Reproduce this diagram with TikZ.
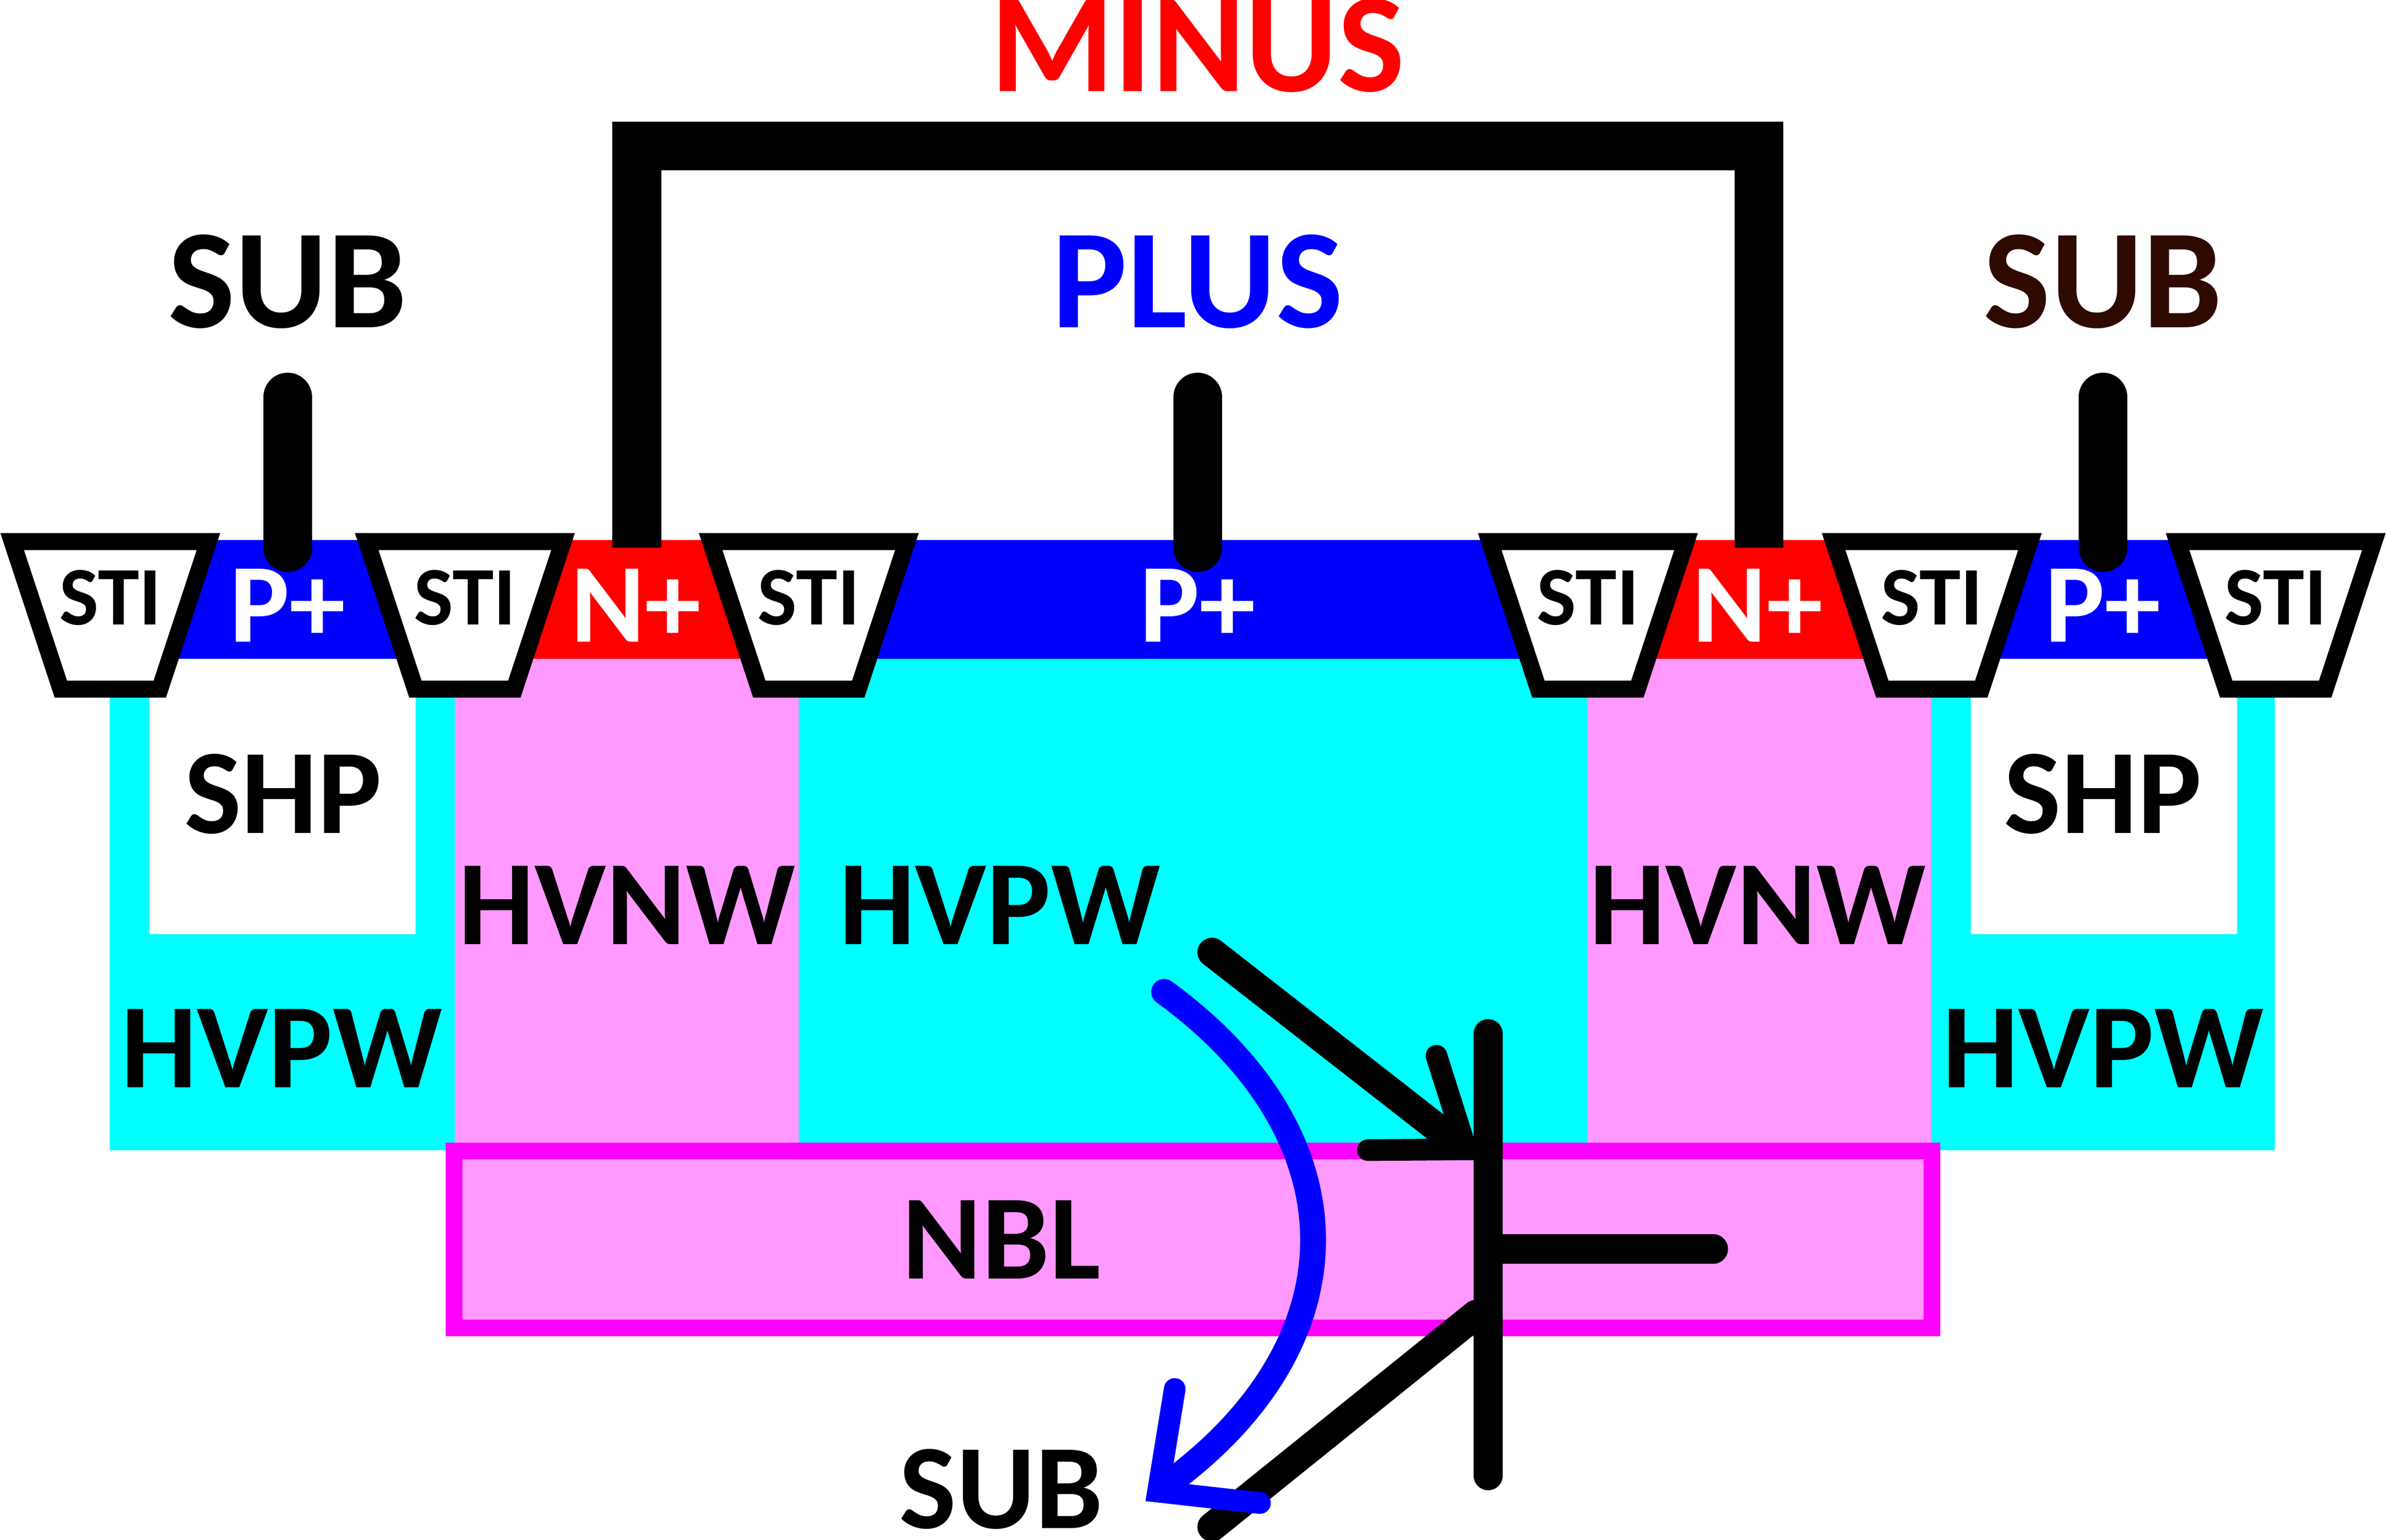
\documentclass[tikz,border=0pt]{standalone}
\usepackage{fontspec}
\setmainfont{Carlito}
\definecolor{hvp}{HTML}{00FFFF}
\definecolor{hvn}{HTML}{FF99FF}
\definecolor{nblc}{HTML}{FF00FF}
\definecolor{pdiff}{HTML}{0000FF}
\definecolor{ndiff}{HTML}{FF0000}
\definecolor{brownish}{HTML}{2E0A00}
\tikzset{
  x=0.36524pt,y=-0.36524pt,
  lab/.style={font=\fontsize{#1}{#1}\selectfont\bfseries,inner sep=0pt,text=black},
  stishape/.style={draw=black,fill=white,line width=4.1pt,miter limit=10},
  stem/.style={draw=black,line width=11.7pt,line cap=round},
  wire/.style={draw=black,line width=11.7pt,line join=miter},
  bjt/.style={draw=black,line width=7pt,line cap=round},
  bjthead/.style={draw=black,line width=5.2pt,line cap=round,line join=miter},
  cur/.style={draw=pdiff,line width=6.2pt,line cap=round},
  curhead/.style={draw=pdiff,line width=5.2pt,line cap=round,line join=miter},
}
\newcommand{\stibox}[2]{%
  \path[stishape] (#1+8,356)--(#1+137,356)--(#1+105,453)--(#1+40,453)--cycle;
  \node[lab=20] (#2) at (#1+72.5,393) {STI};
}
\begin{document}
\begin{tikzpicture}
\useasboundingbox (0,0) rectangle (1568,1012.2);
% wells
\fill[hvp] (72,433) rectangle (299,756);
\fill[white] (98,433) rectangle (273,614);
\fill[hvn] (299,433) rectangle (525,752);
\fill[hvp] (525,433) rectangle (1043,752);
\fill[hvn] (1043,433) rectangle (1269,752);
\fill[hvp] (1269,433) rectangle (1495,756);
\fill[white] (1295,433) rectangle (1470,614);
% diffusions
\fill[pdiff] (72,355) rectangle (299,433);
\fill[ndiff] (299,355) rectangle (525,433);
\fill[pdiff] (525,355) rectangle (1043,433);
\fill[ndiff] (1043,355) rectangle (1269,433);
\fill[pdiff] (1269,355) rectangle (1495,433);
% contact coordinates
\coordinate (c1t) at (189,261); \coordinate (c1b) at (189,360);
\coordinate (c2t) at (787,261); \coordinate (c2b) at (787,360);
\coordinate (c3t) at (1382,261); \coordinate (c3b) at (1382,360);
\coordinate (m1) at (418.5,360); \coordinate (m2) at (418.5,96);
\coordinate (m3) at (1156,96); \coordinate (m4) at (1156,360);
\draw[stem] (c1t) -- (c1b);
\draw[stem] (c2t) -- (c2b);
\draw[stem] (c3t) -- (c3b);
\draw[wire] (m1) -- (m2) -- (m3) -- (m4);
% STI
\stibox{0}{sti1}
\stibox{233}{sti2}
\stibox{459}{sti3}
\stibox{971}{sti4}
\stibox{1197}{sti5}
\stibox{1423}{sti6}
% NBL
\path[draw=nblc,fill=hvn,line width=4pt] (298.5,756.5) rectangle (1269.5,873);
% labels
\node[lab=34,text=ndiff] (minus) at (787,30) {MINUS};
\node[lab=34] (sub1) at (189,185) {SUB};
\node[lab=34,text=pdiff] (plus) at (787,185) {PLUS};
\node[lab=34,text=brownish] (sub2) at (1382,185) {SUB};
\node[lab=27,text=white] (p1) at (189,398) {P+};
\node[lab=27,text=white] (n1) at (418,398) {N+};
\node[lab=27,text=white] (p2) at (787,398) {P+};
\node[lab=27,text=white] (n2) at (1155,398) {N+};
\node[lab=27,text=white] (p3) at (1382,398) {P+};
\node[lab=29] (shp1) at (186,522) {SHP};
\node[lab=29] (shp2) at (1382,522) {SHP};
\node[lab=29] (hvnw1) at (412,595) {HVNW};
\node[lab=29] (hvpw1) at (657,595) {HVPW};
\node[lab=29] (hvnw2) at (1155,595) {HVNW};
\node[lab=29] (hvpw2) at (185,689) {HVPW};
\node[lab=29] (hvpw3) at (1382,689) {HVPW};
\node[lab=29] (nbl) at (658,815) {NBL};
\node[lab=29] (sub3) at (658,979) {SUB};
% transistor
\coordinate (bt) at (978,679.5); \coordinate (bb) at (978,970);
\coordinate (bm) at (978,821); \coordinate (be) at (1126,821);
\coordinate (es) at (796.5,626); \coordinate (ee) at (958,752);
\coordinate (h1) at (944,694); \coordinate (h2) at (963.5,755.5); \coordinate (h3) at (899,756);
\coordinate (cs) at (970,864); \coordinate (ce) at (796.5,1003.7);
\draw[bjt] (bt) -- (bb);
\draw[bjt] (bm) -- (be);
\draw[bjt] (es) -- (ee);
\draw[bjthead] (h1) -- (h2) -- (h3);
\draw[bjt] (cs) -- (ce);
% current arrow
\coordinate (is) at (765,652); \coordinate (ie) at (768,975);
\coordinate (k1) at (772,913); \coordinate (k2) at (761,980.5); \coordinate (k3) at (828,988);
\draw[cur] (is) .. controls (893,745) and (897,880) .. (ie);
\draw[curhead] (k1) -- (k2) -- (k3);
\end{tikzpicture}
\end{document}
